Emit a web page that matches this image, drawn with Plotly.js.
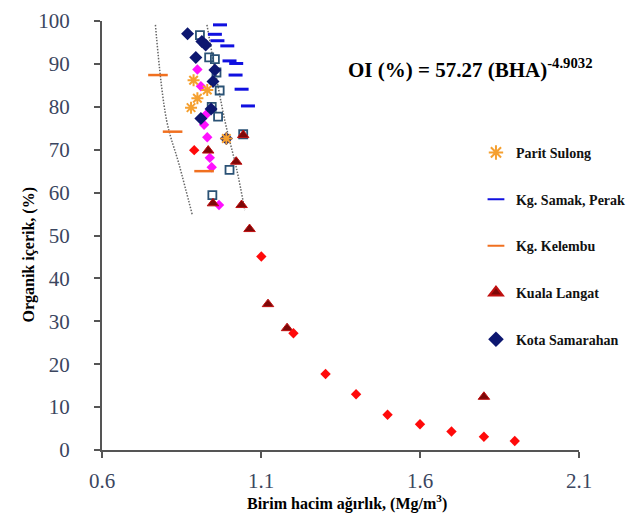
<!DOCTYPE html>
<html>
<head>
<meta charset="utf-8">
<script src="https://cdn.plot.ly/plotly-3.0.1.min.js"></script>
<style>html,body{margin:0;padding:0;background:#fff;}#chart{width:643px;height:521px;}</style>
</head>
<body>
<div id="chart"></div>
<script>
// Legend series
const paritSulongX = [0.888, 0.931, 0.900, 0.880, 0.991];
const paritSulongY = [86.2, 83.9, 82.0, 79.8, 72.6];

const kgSamakX = [0.971, 0.955, 0.963, 0.994, 1.001, 1.022, 1.020, 1.039, 1.059];
const kgSamakY = [99.1, 96.9, 95.4, 94.2, 90.7, 90.1, 87.4, 84.1, 80.2];

const kgKelembuX = [0.776, 0.822, 0.921];
const kgKelembuY = [87.4, 74.2, 65.0];

const kualaLangatX = [1.044, 0.934, 1.022, 0.949, 1.039, 1.064, 1.122, 1.182, 1.801];
const kualaLangatY = [73.4, 69.8, 67.2, 57.5, 57.1, 51.5, 34.0, 28.4, 12.4];

const kotaSamarahanX = [0.869, 0.914, 0.926, 0.895, 0.955, 0.949, 0.911, 0.943, 0.991];
const kotaSamarahanY = [97.0, 95.2, 94.4, 91.5, 88.6, 85.9, 77.3, 79.5, 72.6];

// Unlabelled series
const openSquareX = [0.908, 0.937, 0.955, 0.960, 0.970, 0.945, 0.965, 1.044, 1.001, 0.947];
const openSquareY = [96.7, 91.5, 91.1, 88.0, 83.8, 80.0, 77.7, 73.6, 65.3, 59.4];

const magentaX = [0.900, 0.911, 0.926, 0.921, 0.931, 0.939, 0.945, 0.968];
const magentaY = [88.7, 84.8, 78.1, 75.8, 72.9, 68.1, 65.9, 57.1];

const redDiamondX = [0.890, 1.101, 1.202, 1.303, 1.399, 1.498, 1.600, 1.699, 1.801, 1.898];
const redDiamondY = [69.9, 45.1, 27.2, 17.7, 13.0, 8.2, 6.0, 4.3, 3.1, 2.1];

// Dotted envelope curves
const lowerBoundX = [0.768, 0.803, 0.843, 0.884];
const lowerBoundY = [99.1, 76.9, 66.4, 54.8];
const upperBoundX = [0.930, 0.986, 1.024, 1.049];
const upperBoundY = [99.1, 76.9, 65.3, 55.9];

// Axis ticks
const xTicks = [0.6, 1.1, 1.6, 2.1];
const xTickText = ['0.6', '1.1', '1.6', '2.1'];
const yTicks = [0, 10, 20, 30, 40, 50, 60, 70, 80, 90, 100];

const serif = 'Liberation Serif, Times New Roman, serif';

const traces = [
  {x: lowerBoundX, y: lowerBoundY, mode: 'lines', line: {color: '#666', width: 1.5, dash: '1.5px,1.5px', shape: 'spline'}, showlegend: false, hoverinfo: 'skip'},
  {x: upperBoundX, y: upperBoundY, mode: 'lines', line: {color: '#666', width: 1.5, dash: '1.5px,1.5px', shape: 'spline'}, showlegend: false, hoverinfo: 'skip'},
  {x: openSquareX, y: openSquareY, mode: 'markers', showlegend: false,
   marker: {symbol: 'square-open', size: 8, color: '#2a5275', line: {width: 1.8, color: '#2a5275'}}},
  {x: magentaX, y: magentaY, mode: 'markers', showlegend: false,
   marker: {symbol: 'diamond', size: 8, color: '#ff10ff'}},
  {x: kotaSamarahanX, y: kotaSamarahanY, mode: 'markers', name: '<b>Kota Samarahan</b>', legendrank: 5, legendgroup: 'e',
   marker: {symbol: 'diamond', size: 10, color: '#0d1770'}},
  {x: paritSulongX, y: paritSulongY, mode: 'markers', name: '<b>Parit Sulong</b>', legendrank: 1, legendgroup: 'a',
   marker: {symbol: 'asterisk-open', size: 10, color: '#f5a030', line: {width: 2, color: '#f5a030'}}},
  {x: kgSamakX, y: kgSamakY, mode: 'markers', name: '<b>Kg. Samak, Perak</b>', legendrank: 2, legendgroup: 'b',
   marker: {symbol: 'line-ew-open', size: 10, color: '#1010e0', line: {width: 3, color: '#1010e0'}}},
  {x: kgKelembuX, y: kgKelembuY, mode: 'markers', name: '<b>Kg. Kelembu</b>', legendrank: 3, legendgroup: 'c',
   marker: {symbol: 'line-ew-open', size: 14, color: '#f07020', line: {width: 2.5, color: '#f07020'}}},
  {x: kualaLangatX, y: kualaLangatY, mode: 'markers', name: '<b>Kuala Langat</b>', legendrank: 4, legendgroup: 'd',
   marker: {symbol: 'triangle-up', size: 10, color: '#7d0808', line: {width: 1, color: '#c01010'}}},
  {x: redDiamondX, y: redDiamondY, mode: 'markers', showlegend: false,
   marker: {symbol: 'diamond', size: 8, color: '#ff0a0a'}}
];

const layout = {
  width: 643, height: 521,
  margin: {l: 102, r: 60, t: 21, b: 71},
  paper_bgcolor: '#fff', plot_bgcolor: '#fff',
  showlegend: true,
  legend: {x: 0.784, xanchor: 'left', y: 0.73, yanchor: 'top', tracegroupgap: 25.5,
           font: {family: serif, size: 14, color: '#111'}, bgcolor: 'rgba(0,0,0,0)', itemsizing: 'constant'},
  xaxis: {range: [0.6, 2.1], tickvals: xTicks, ticktext: xTickText, showgrid: false, zeroline: false,
          showline: true, linecolor: '#555', linewidth: 2, ticks: 'outside', ticklen: 6, tickwidth: 2, tickcolor: '#555',
          tickfont: {family: serif, size: 21, color: '#3b4660'}, ticklabelstandoff: 5},
  yaxis: {range: [0, 100], tickvals: yTicks, showgrid: false, zeroline: false,
          showline: true, linecolor: '#555', linewidth: 2, ticks: 'outside', ticklen: 6, tickwidth: 2, tickcolor: '#555',
          tickfont: {family: serif, size: 21, color: '#3b4660'}, ticklabelstandoff: 20},
  annotations: [
    {xref: 'paper', yref: 'paper', x: 0.511, y: 0.89, xanchor: 'left', yanchor: 'middle', showarrow: false,
     text: '<b>OI (%) = 57.27 (BHA)<sup>-4.9032</sup></b>', font: {family: serif, size: 21, color: '#000'}},
    {xref: 'paper', yref: 'paper', x: -0.154, y: 0.4545, xanchor: 'center', yanchor: 'middle', showarrow: false, textangle: -90,
     text: '<b>Organik içerik, (%)</b>', font: {family: serif, size: 16, color: '#000'}},
    {xref: 'paper', yref: 'paper', x: 0.5135, y: -0.1235, xanchor: 'center', yanchor: 'middle', showarrow: false,
     text: '<b>Birim hacim ağırlık, (Mg/m<sup>3</sup>)</b>', font: {family: serif, size: 16, color: '#000'}}
  ]
};

Plotly.newPlot('chart', traces, layout, {displayModeBar: false, staticPlot: true});
</script>
</body>
</html>
